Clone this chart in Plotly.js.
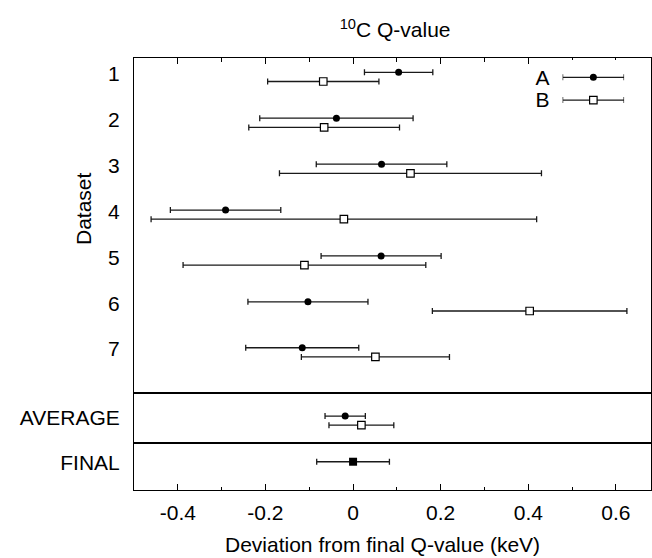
<!DOCTYPE html>
<html>
<head>
<meta charset="utf-8">
<script src="https://cdn.plot.ly/plotly-3.0.1.min.js"></script>
<style>html,body{margin:0;padding:0;background:#fff;}#chart{width:652px;height:558px;}</style>
</head>
<body>
<div id="chart"></div>
<script>
// ---- data ----
const datasets = ['1', '2', '3', '4', '5', '6', '7'];
const seriesNames = ['A', 'B'];
const valA = [0.104, -0.038, 0.065, -0.291, 0.064, -0.103, -0.116];
const errA = [0.078, 0.175, 0.149, 0.126, 0.137, 0.137, 0.129];
const valB = [-0.068, -0.066, 0.131, -0.021, -0.111, 0.403, 0.051];
const errB = [0.127, 0.172, 0.299, 0.440, 0.277, 0.222, 0.169];
const avgLabel = 'AVERAGE';
const avgVal = [-0.018, 0.019];
const avgErr = [0.046, 0.074];
const finalLabel = 'FINAL';
const finalVal = [0];
const finalErr = [0.083];
const xTickVals = [-0.4, -0.2, 0, 0.2, 0.4, 0.6];
const xTickText = ['-0.4', '-0.2', '0', '0.2', '0.4', '0.6'];
const titleText = '<sup>10</sup>C Q-value';
const xTitle = 'Deviation from final Q-value (keV)';
const yTitle = 'Dataset';

// ---- styles ----
const FONT = 'Liberation Sans, Arial, sans-serif';
const offA = -0.03, offB = 0.17;
const ebar = arr => ({type: 'data', symmetric: true, array: arr, color: '#1a1a1a', thickness: 1.3, width: 3});
const markA = {symbol: 'circle', size: 7, color: '#000'};
const markB = {symbol: 'square', size: 7.5, color: '#fff', line: {color: '#000', width: 1.2}};
const markF = {symbol: 'square', size: 8, color: '#000'};

const traces = [
  {x: valA, y: datasets.map((d, i) => i + 1 + offA), mode: 'markers', marker: markA,
   error_x: ebar(errA), xaxis: 'x', yaxis: 'y', name: seriesNames[0], showlegend: false},
  {x: valB, y: datasets.map((d, i) => i + 1 + offB), mode: 'markers', marker: markB,
   error_x: ebar(errB), xaxis: 'x', yaxis: 'y', name: seriesNames[1], showlegend: false},
  {x: [avgVal[0]], y: [offA], mode: 'markers', marker: markA,
   error_x: ebar([avgErr[0]]), xaxis: 'x2', yaxis: 'y2', name: seriesNames[0], showlegend: false},
  {x: [avgVal[1]], y: [offB], mode: 'markers', marker: markB,
   error_x: ebar([avgErr[1]]), xaxis: 'x2', yaxis: 'y2', name: seriesNames[1], showlegend: false},
  {x: finalVal, y: [offA], mode: 'markers', marker: markF,
   error_x: ebar(finalErr), xaxis: 'x3', yaxis: 'y3', name: finalLabel, showlegend: false},
  // legend samples
  {x: [0.5], y: [0], mode: 'markers', marker: markA, error_x: ebar([0.5]),
   xaxis: 'x4', yaxis: 'y4', hoverinfo: 'skip', showlegend: false},
  {x: [0.5], y: [1], mode: 'markers', marker: markB, error_x: ebar([0.5]),
   xaxis: 'x4', yaxis: 'y4', hoverinfo: 'skip', showlegend: false}
];

const xCommon = {range: [-0.5, 0.68], showgrid: false, zeroline: false, showline: true,
  linecolor: '#000', linewidth: 1, mirror: true, fixedrange: true};
const yCommon = {showgrid: false, zeroline: false, showline: true, linecolor: '#000', linewidth: 1,
  mirror: true, ticks: '', tickfont: {size: 21, color: '#000', family: FONT}, ticklabelstandoff: 9};

const layout = {
  width: 652, height: 558,
  margin: {l: 134, r: 1, t: 58, b: 68, pad: 0},
  paper_bgcolor: '#fff', plot_bgcolor: '#fff',
  font: {family: FONT, color: '#000', size: 21},
  showlegend: false,
  title: {text: titleText, font: {size: 21, family: FONT, color: '#000'},
    xref: 'paper', x: 0.505, xanchor: 'center', yref: 'container', y: 1 - 30 / 558, yanchor: 'middle'},
  xaxis: Object.assign({}, xCommon, {anchor: 'y', side: 'top', ticks: 'inside', ticklen: 6, tickwidth: 1,
    tickcolor: '#000', tickvals: xTickVals, showticklabels: false,
    minor: {ticks: 'inside', ticklen: 4, dtick: 0.1, tick0: 0, tickcolor: '#000', tickwidth: 1}}),
  xaxis2: Object.assign({}, xCommon, {anchor: 'y2', ticks: '', showticklabels: false}),
  xaxis3: Object.assign({}, xCommon, {anchor: 'y3', side: 'bottom', ticks: 'inside', ticklen: 6, tickwidth: 1,
    tickcolor: '#000', tickvals: xTickVals, ticktext: xTickText,
    tickfont: {size: 21, color: '#000', family: FONT}, ticklabelstandoff: 4,
    minor: {ticks: 'inside', ticklen: 3, dtick: 0.1, tick0: 0, tickcolor: '#000', tickwidth: 1}}),
  yaxis: Object.assign({}, yCommon, {anchor: 'x', domain: [0.2238, 1], range: [7.963, 0.658],
    tickvals: datasets.map((d, i) => i + 1), ticktext: datasets}),
  yaxis2: Object.assign({}, yCommon, {anchor: 'x2', domain: [0.1088, 0.2238], range: [0.558, -0.525],
    tickvals: [0], ticktext: [avgLabel]}),
  yaxis3: Object.assign({}, yCommon, {anchor: 'x3', domain: [0, 0.1088], range: [0.586, -0.438],
    tickvals: [0], ticktext: [finalLabel]}),
  xaxis4: {anchor: 'y4', domain: [0.829, 0.948], range: [0, 1], visible: false, fixedrange: true},
  yaxis4: {anchor: 'x4', domain: [0.861, 0.9954], range: [1.793, -0.762], showgrid: false, zeroline: false,
    showline: false, ticks: '', tickvals: [0, 1], ticktext: seriesNames, ticklabelstandoff: 12,
    tickfont: {size: 21, color: '#000', family: FONT}, fixedrange: true},
  annotations: [
    {text: xTitle, xref: 'paper', yref: 'paper', x: 0.48, y: (490 - 544) / 432,
     xanchor: 'center', yanchor: 'middle', showarrow: false, font: {size: 21, family: FONT, color: '#000'}},
    {text: yTitle, xref: 'paper', yref: 'paper', x: (83 - 134) / 517, y: (490 - 209) / 432, textangle: -90,
     xanchor: 'center', yanchor: 'middle', showarrow: false, font: {size: 21, family: FONT, color: '#000'}}
  ]
};

Plotly.newPlot('chart', traces, layout, {displayModeBar: false, staticPlot: true});
</script>
</body>
</html>
